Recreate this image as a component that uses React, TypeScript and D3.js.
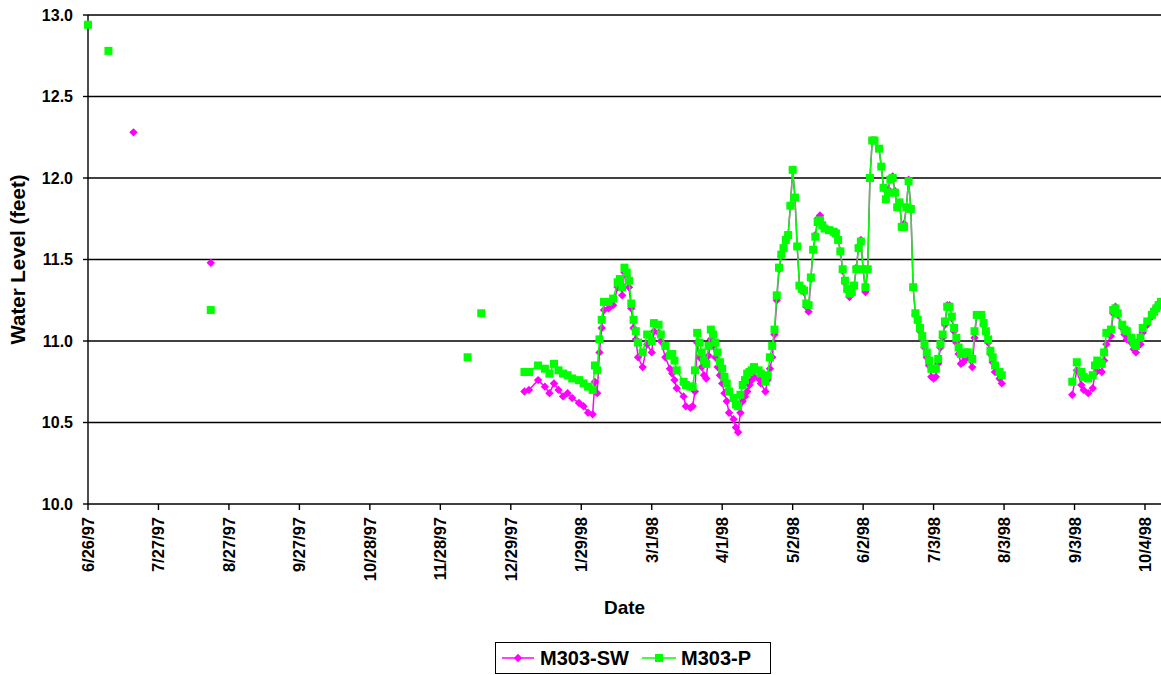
import React from "react";
import * as d3 from "d3";

// ---------------- data ----------------
const seriesNames = ["M303-SW", "M303-P"];
const seriesColors = ["#FF00FF", "#00FF00"];

const yTicks = [10.0, 10.5, 11.0, 11.5, 12.0, 12.5, 13.0];
const xTickDates = [
  "1997-06-26", "1997-07-27", "1997-08-27", "1997-09-27", "1997-10-28", "1997-11-28",
  "1997-12-29", "1998-01-29", "1998-03-01", "1998-04-01", "1998-05-02", "1998-06-02",
  "1998-07-03", "1998-08-03", "1998-09-03", "1998-10-04",
];

// isolated early readings
const swEarlyDates = ["1997-07-16", "1997-08-19"];
const swEarlyValues = [12.28, 11.48];
const pEarlyDates = ["1997-06-26", "1997-07-05", "1997-08-19", "1997-12-10", "1997-12-16"];
const pEarlyValues = [12.94, 12.78, 11.19, 10.9, 11.17];

// continuous record (shared measurement dates)
const recordDates = [
  "1998-01-04", "1998-01-06", "1998-01-10", "1998-01-13", "1998-01-15", "1998-01-17", "1998-01-19", "1998-01-21",
  "1998-01-23", "1998-01-25", "1998-01-28", "1998-01-30", "1998-02-01", "1998-02-03", "1998-02-04", "1998-02-05",
  "1998-02-06", "1998-02-07", "1998-02-08", "1998-02-10", "1998-02-12", "1998-02-14", "1998-02-15", "1998-02-16",
  "1998-02-17", "1998-02-18", "1998-02-19", "1998-02-20", "1998-02-21", "1998-02-22", "1998-02-23", "1998-02-25",
  "1998-02-27", "1998-03-01", "1998-03-02", "1998-03-04", "1998-03-05", "1998-03-07", "1998-03-09", "1998-03-10",
  "1998-03-11", "1998-03-12", "1998-03-15", "1998-03-16", "1998-03-18", "1998-03-19", "1998-03-20", "1998-03-21",
  "1998-03-22", "1998-03-23", "1998-03-24", "1998-03-25", "1998-03-26", "1998-03-27", "1998-03-28", "1998-03-29",
  "1998-03-30", "1998-03-31", "1998-04-01", "1998-04-02", "1998-04-03", "1998-04-04", "1998-04-06", "1998-04-07",
  "1998-04-08", "1998-04-09", "1998-04-10", "1998-04-11", "1998-04-12", "1998-04-13", "1998-04-14", "1998-04-15",
  "1998-04-17", "1998-04-18", "1998-04-20", "1998-04-21", "1998-04-22", "1998-04-23", "1998-04-24", "1998-04-25",
  "1998-04-26", "1998-04-27", "1998-04-28", "1998-04-29", "1998-04-30", "1998-05-01", "1998-05-02", "1998-05-03",
  "1998-05-04", "1998-05-05", "1998-05-06", "1998-05-07", "1998-05-08", "1998-05-09", "1998-05-10", "1998-05-11",
  "1998-05-12", "1998-05-13", "1998-05-14", "1998-05-15", "1998-05-16", "1998-05-18", "1998-05-20", "1998-05-21",
  "1998-05-22", "1998-05-23", "1998-05-24", "1998-05-25", "1998-05-26", "1998-05-27", "1998-05-28", "1998-05-29",
  "1998-05-30", "1998-05-31", "1998-06-01", "1998-06-02", "1998-06-03", "1998-06-04", "1998-06-05", "1998-06-06",
  "1998-06-07", "1998-06-09", "1998-06-10", "1998-06-11", "1998-06-12", "1998-06-13", "1998-06-14", "1998-06-15",
  "1998-06-16", "1998-06-17", "1998-06-18", "1998-06-19", "1998-06-20", "1998-06-21", "1998-06-22", "1998-06-23",
  "1998-06-24", "1998-06-25", "1998-06-26", "1998-06-27", "1998-06-28", "1998-06-29", "1998-06-30", "1998-07-01",
  "1998-07-02", "1998-07-03", "1998-07-04", "1998-07-05", "1998-07-06", "1998-07-07", "1998-07-08", "1998-07-09",
  "1998-07-10", "1998-07-11", "1998-07-12", "1998-07-13", "1998-07-14", "1998-07-15", "1998-07-16", "1998-07-17",
  "1998-07-18", "1998-07-20", "1998-07-21", "1998-07-22", "1998-07-24", "1998-07-25", "1998-07-26", "1998-07-27",
  "1998-07-28", "1998-07-29", "1998-07-30", "1998-08-01", "1998-08-02",
  "1998-09-02", "1998-09-04", "1998-09-06", "1998-09-07", "1998-09-09", "1998-09-11", "1998-09-12", "1998-09-13",
  "1998-09-15", "1998-09-16", "1998-09-17", "1998-09-19", "1998-09-20", "1998-09-21", "1998-09-22", "1998-09-24",
  "1998-09-25", "1998-09-26", "1998-09-28", "1998-09-29", "1998-09-30", "1998-10-02", "1998-10-03", "1998-10-05",
  "1998-10-07", "1998-10-08", "1998-10-09", "1998-10-10", "1998-10-11",
];

const pValues = [
  10.81, 10.81, 10.85, 10.83, 10.8, 10.86, 10.82, 10.8,
  10.79, 10.77, 10.76, 10.74, 10.72, 10.7, 10.85, 10.82,
  11.01, 11.13, 11.24, 11.24, 11.26, 11.36, 11.38, 11.33,
  11.45, 11.42, 11.37, 11.23, 11.13, 11.06, 10.99, 10.93,
  11.04, 11.0, 11.11, 11.1, 11.04, 10.97, 10.91, 10.92,
  10.88, 10.82, 10.75, 10.73, 10.72, 10.72, 10.82, 11.05,
  10.99, 10.93, 10.88, 10.86, 10.97, 11.07, 11.04, 10.99,
  10.93, 10.87, 10.83, 10.78, 10.74, 10.69, 10.65, 10.61,
  10.6, 10.67, 10.73, 10.76, 10.8, 10.81, 10.82, 10.84,
  10.82, 10.8, 10.75, 10.79, 10.9, 10.97, 11.07, 11.28,
  11.45, 11.53, 11.57, 11.62, 11.65, 11.83, 12.05, 11.88,
  11.58, 11.34, 11.32, 11.31, 11.23, 11.22, 11.39, 11.56,
  11.64, 11.73, 11.74, 11.71, 11.69, 11.68, 11.67, 11.66,
  11.62, 11.55, 11.44, 11.37, 11.32, 11.29, 11.3, 11.34,
  11.44, 11.57, 11.61, 11.44, 11.33, 11.44, 12.0, 12.23,
  12.23, 12.18, 12.07, 11.94, 11.87, 11.91, 11.99, 12.0,
  11.91, 11.82, 11.85, 11.7, 11.7, 11.82, 11.98, 11.81,
  11.33, 11.17, 11.13, 11.08, 11.03, 10.98, 10.93, 10.88,
  10.83, 10.83, 10.83, 10.89, 10.98, 11.04, 11.12, 11.21,
  11.21, 11.15, 11.08, 11.02, 10.96, 10.92, 10.92, 10.93,
  10.93, 10.89, 11.06, 11.16, 11.16, 11.11, 11.06, 11.01,
  10.94, 10.9, 10.85, 10.81, 10.79,
  10.75, 10.87, 10.81, 10.78, 10.77, 10.79, 10.85, 10.88,
  10.86, 10.93, 11.05, 11.07, 11.19, 11.2, 11.17, 11.1,
  11.07, 11.06, 11.02, 10.99, 10.97, 11.02, 11.08, 11.12,
  11.16, 11.18, 11.2, 11.22, 11.24,
];

const swValues = [
  10.69, 10.7, 10.76, 10.72, 10.68, 10.74, 10.7, 10.66,
  10.68, 10.65, 10.62, 10.6, 10.56, 10.55, 10.75, 10.68,
  10.93, 11.08, 11.19, 11.2, 11.22, 11.33, 11.36, 11.28,
  11.42, 11.4, 11.33, 11.2, 11.08, 11.01, 10.9, 10.84,
  10.98, 10.93, 11.06, 11.05, 11.0, 10.9, 10.83, 10.8,
  10.76, 10.71, 10.66, 10.6, 10.59, 10.6, 10.69, 10.99,
  10.9, 10.84, 10.79, 10.77, 10.91, 11.01, 10.97, 10.9,
  10.84, 10.79, 10.74, 10.68, 10.63, 10.56, 10.52, 10.47,
  10.44, 10.56, 10.63, 10.66, 10.69, 10.73, 10.76, 10.78,
  10.77, 10.74, 10.69, 10.76, 10.83, 10.9, 11.04, 11.25,
  11.44, 11.52, 11.57, 11.62, 11.65, 11.83, 12.05, 11.88,
  11.58, 11.34, 11.31, 11.3, 11.21, 11.18, 11.38, 11.56,
  11.65, 11.75, 11.77, 11.72, 11.7, 11.68, 11.67, 11.67,
  11.62, 11.55, 11.43, 11.36, 11.31, 11.27, 11.29, 11.34,
  11.45, 11.58, 11.62, 11.44, 11.3, 11.44, 12.0, 12.23,
  12.23, 12.18, 12.07, 11.94, 11.87, 11.93, 12.0, 12.01,
  11.92, 11.82, 11.85, 11.71, 11.72, 11.82, 11.99, 11.81,
  11.33, 11.16, 11.12, 11.06, 11.01, 10.96, 10.9, 10.85,
  10.78, 10.77, 10.78, 10.86, 10.96, 11.02, 11.1, 11.22,
  11.22, 11.14, 11.06, 10.99, 10.92, 10.86, 10.87, 10.89,
  10.9, 10.84, 11.02, 11.16, 11.16, 11.1, 11.05, 10.99,
  10.92, 10.87, 10.81, 10.77, 10.74,
  10.67, 10.82, 10.73, 10.7, 10.68, 10.71, 10.8, 10.82,
  10.81, 10.88, 10.98, 11.03, 11.17, 11.21, 11.16, 11.08,
  11.04, 11.01, 10.99, 10.95, 10.93, 10.98, 11.05, 11.1,
  11.15, 11.19, 11.21, 11.23, 11.24,
];

// ---------------- chart ----------------
const W = 1161;
const H = 675;
const plotLeft = 88;
const plotRight = 1161;
const plotTop = 15;
const plotBottom = 504;
const FONT = "'Liberation Sans', Arial, Helvetica, sans-serif";

const parse = d3.timeParse("%Y-%m-%d");
const fmt = (d: Date) => `${d.getMonth() + 1}/${d.getDate()}/${String(d.getFullYear()).slice(2)}`;

type Pt = { date: Date; value: number };

function buildSeries(earlyD: string[], earlyV: number[], d: string[], v: number[]): Pt[] {
  const pts: Pt[] = [];
  earlyD.forEach((s, i) => pts.push({ date: parse(s) as Date, value: earlyV[i] }));
  d.forEach((s, i) => pts.push({ date: parse(s) as Date, value: v[i] }));
  pts.sort((a, b) => +a.date - +b.date);
  return pts;
}

function segmentsOf(pts: Pt[]): Pt[][] {
  const segs: Pt[][] = [];
  let cur: Pt[] = [];
  pts.forEach((p, i) => {
    if (i > 0 && d3.timeDay.count(pts[i - 1].date, p.date) > 5) {
      segs.push(cur);
      cur = [];
    }
    cur.push(p);
  });
  if (cur.length) segs.push(cur);
  return segs;
}

const swSeries = buildSeries(swEarlyDates, swEarlyValues, recordDates, swValues);
const pSeries = buildSeries(pEarlyDates, pEarlyValues, recordDates, pValues);

const x = d3
  .scaleTime()
  .domain([parse(xTickDates[0]) as Date, parse(xTickDates[xTickDates.length - 1]) as Date])
  .range([88, 1145]);
const y = d3.scaleLinear().domain([10, 13]).range([plotBottom, plotTop]);

const line = d3
  .line<Pt>()
  .x((d) => x(d.date))
  .y((d) => y(d.value));

const diamond = "M0,-4.2L4.2,0L0,4.2L-4.2,0Z";

function Diamond({ cx, cy, color }: { cx: number; cy: number; color: string }) {
  return <path d={diamond} transform={`translate(${cx},${cy})`} fill={color} />;
}
function Square({ cx, cy, color }: { cx: number; cy: number; color: string }) {
  return <rect x={cx - 4} y={cy - 4} width={8} height={8} fill={color} />;
}

export default function App() {
  const xTicks = xTickDates.map((s) => parse(s) as Date);
  return (
    <svg
      width={W}
      height={H}
      style={{ position: "absolute", left: 0, top: 0, background: "#fff" }}
      fontFamily={FONT}
    >
      <defs>
        <clipPath id="plotClip">
          <rect x={plotLeft - 6} y={0} width={plotRight - plotLeft + 6} height={plotBottom + 6} />
        </clipPath>
      </defs>
      <rect x={0} y={0} width={W} height={H} fill="#fff" />

      {/* gridlines */}
      {yTicks.map((t) => (
        <line key={t} x1={plotLeft} x2={plotRight} y1={y(t)} y2={y(t)} stroke="#000" strokeWidth={1.4} />
      ))}

      {/* y axis */}
      <line x1={plotLeft} x2={plotLeft} y1={plotTop} y2={plotBottom} stroke="#000" strokeWidth={1.4} />
      {yTicks.map((t) => (
        <g key={"yt" + t}>
          <line x1={plotLeft - 5} x2={plotLeft} y1={y(t)} y2={y(t)} stroke="#000" strokeWidth={1.4} />
          <text x={73} y={y(t)} dy="0.36em" textAnchor="end" fontSize={16} fontWeight="bold" fill="#000">
            {t.toFixed(1)}
          </text>
        </g>
      ))}

      {/* x axis */}
      {xTicks.map((d, i) => (
        <g key={"xt" + i}>
          <line x1={x(d)} x2={x(d)} y1={plotBottom} y2={plotBottom + 6} stroke="#000" strokeWidth={1.4} />
          <text
            transform={`translate(${x(d) + 6},${plotBottom + 13}) rotate(-90)`}
            textAnchor="end"
            fontSize={16.5}
            fontWeight="bold"
            fill="#000"
          >
            {fmt(d)}
          </text>
        </g>
      ))}

      {/* axis titles */}
      <text
        transform={`translate(25,${(plotTop + plotBottom) / 2}) rotate(-90)`}
        textAnchor="middle"
        fontSize={20.5}
        fontWeight="bold"
        fill="#000"
      >
        Water Level (feet)
      </text>
      <text x={(plotLeft + plotRight) / 2} y={614} textAnchor="middle" fontSize={19} fontWeight="bold" fill="#000">
        Date
      </text>

      {/* series */}
      <g clipPath="url(#plotClip)">
        {segmentsOf(swSeries)
          .filter((s) => s.length > 1)
          .map((s, i) => (
            <path key={"swl" + i} d={line(s) || ""} fill="none" stroke={seriesColors[0]} strokeWidth={1.5} />
          ))}
        {swSeries.map((p, i) => (
          <Diamond key={"swm" + i} cx={x(p.date)} cy={y(p.value)} color={seriesColors[0]} />
        ))}
        {segmentsOf(pSeries)
          .filter((s) => s.length > 1)
          .map((s, i) => (
            <path key={"pl" + i} d={line(s) || ""} fill="none" stroke={seriesColors[1]} strokeWidth={1.5} />
          ))}
        {pSeries.map((p, i) => (
          <Square key={"pm" + i} cx={x(p.date)} cy={y(p.value)} color={seriesColors[1]} />
        ))}
      </g>

      {/* legend */}
      <rect x={495.5} y={642.5} width={275} height={31} fill="#fff" stroke="#000" strokeWidth={1} />
      <line x1={502} x2={534} y1={658} y2={658} stroke={seriesColors[0]} strokeWidth={1.5} />
      <Diamond cx={518} cy={658} color={seriesColors[0]} />
      <text x={540} y={665} fontSize={20} fontWeight="bold" fill="#000">
        {seriesNames[0]}
      </text>
      <line x1={642} x2={676} y1={658} y2={658} stroke={seriesColors[1]} strokeWidth={1.5} />
      <Square cx={659} cy={658} color={seriesColors[1]} />
      <text x={681} y={665} fontSize={20} fontWeight="bold" fill="#000">
        {seriesNames[1]}
      </text>
    </svg>
  );
}
